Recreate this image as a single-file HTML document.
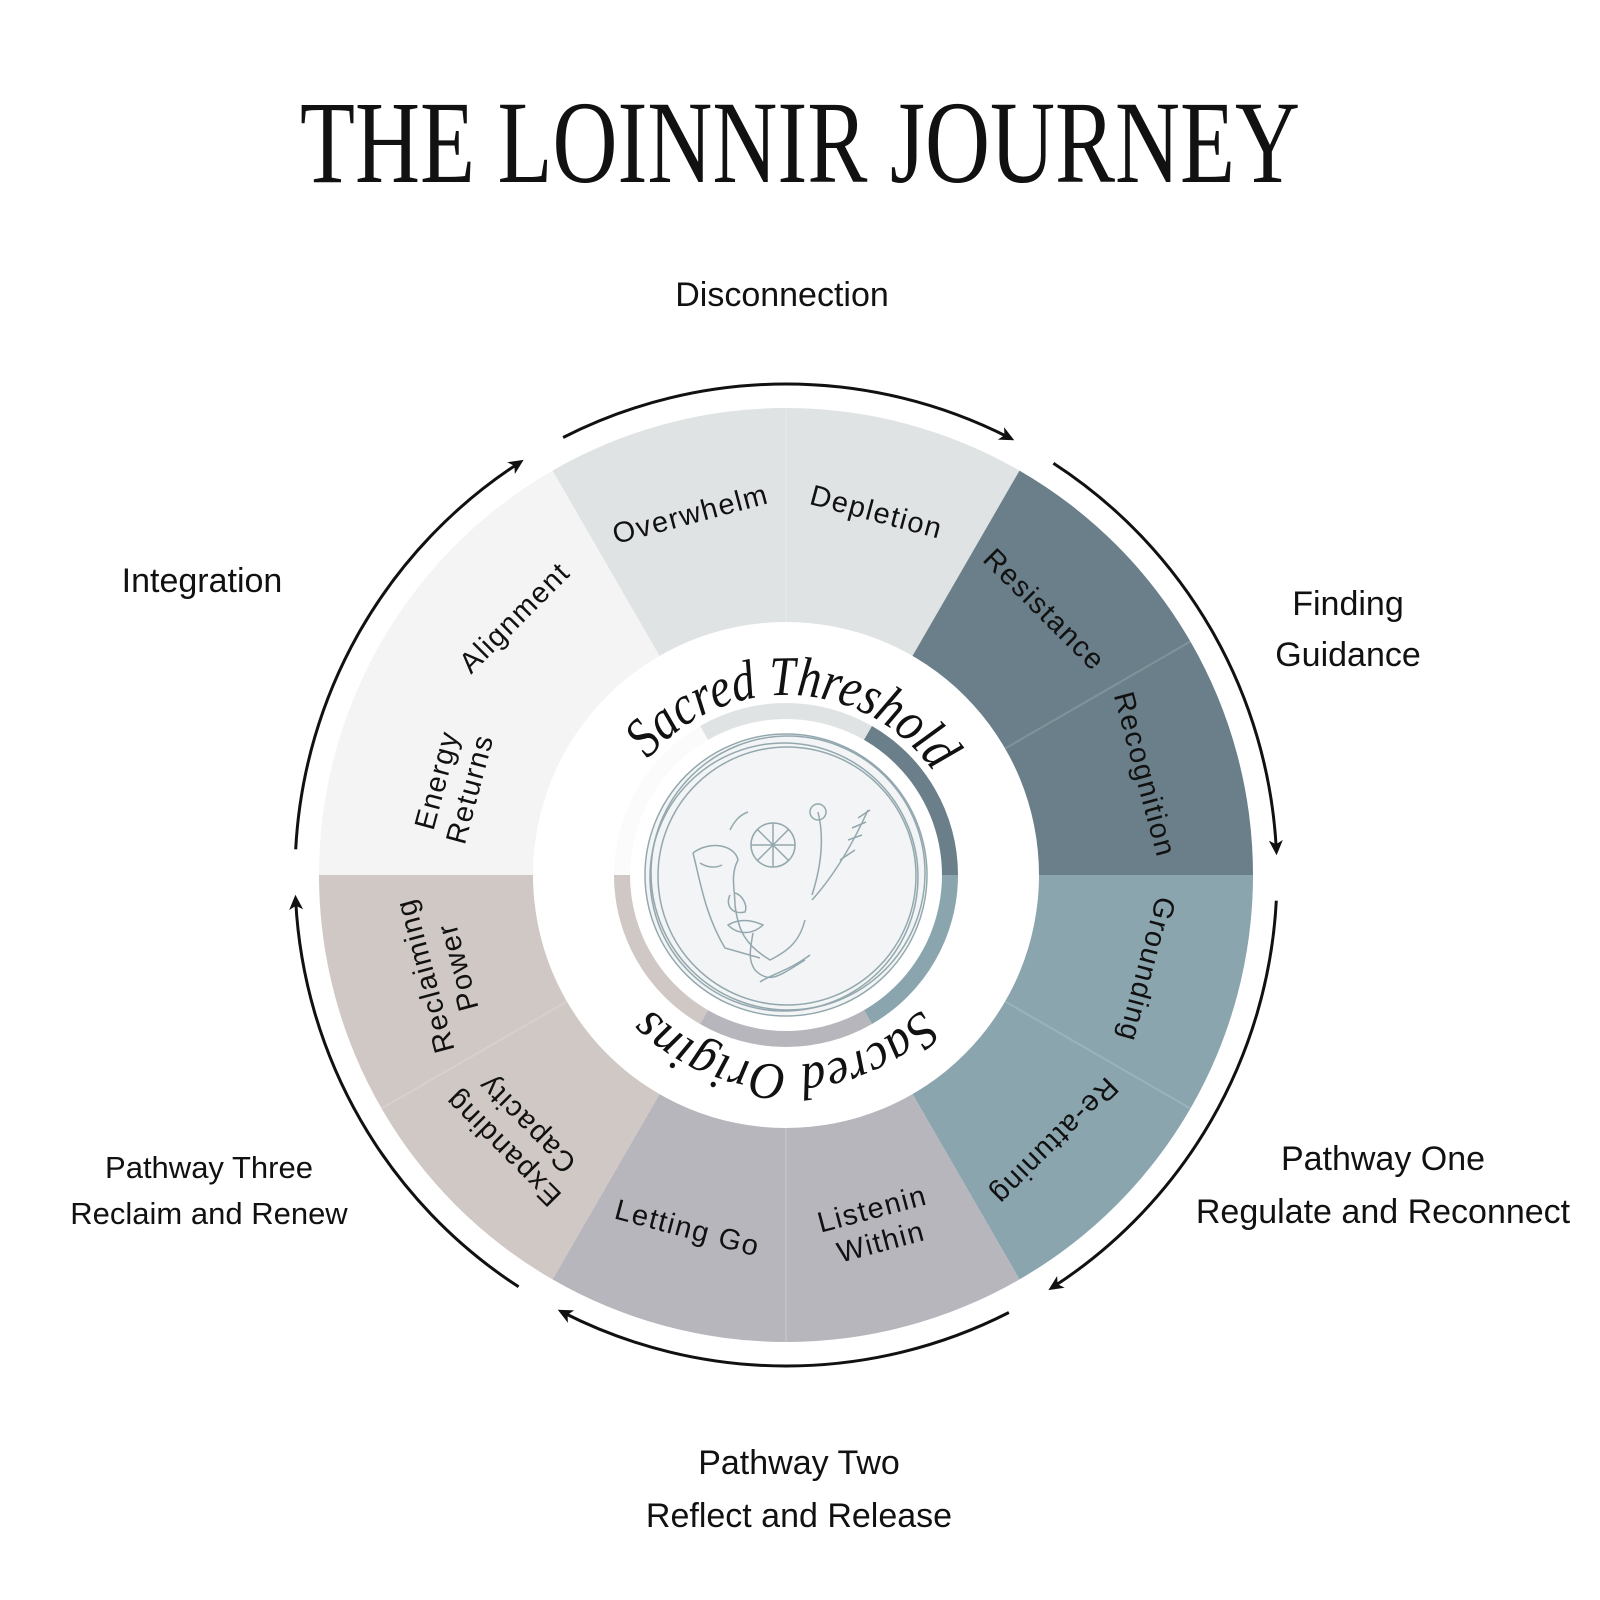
<!DOCTYPE html>
<html><head><meta charset="utf-8"><style>
html,body{margin:0;padding:0;background:#fff;}
svg{display:block;}
.lb{font-family:"Liberation Sans",sans-serif;font-size:34px;fill:#111;}
.sg{font-family:"Liberation Sans",sans-serif;font-size:29px;fill:#111;letter-spacing:1.5px;}
</style></head><body>
<svg width="1600" height="1600" viewBox="0 0 1600 1600" xmlns="http://www.w3.org/2000/svg">
<defs>
<marker id="ah" markerWidth="16" markerHeight="14" refX="9" refY="7" orient="auto" markerUnits="userSpaceOnUse">
<path d="M0,0 L15,7 L0,14 L4,7 Z" fill="#111"/>
</marker>
<path id="topArc" d="M648.1,759.3 A180,180 0 0 1 933.4,771.8"/>
<path id="botArc" d="M920.4,1009.4 A190,190 0 0 1 640.4,997.1"/>
</defs>

<text x="800" y="182" text-anchor="middle" font-family="Liberation Serif,serif" font-size="118" textLength="1000" lengthAdjust="spacingAndGlyphs" fill="#111">THE LOINNIR JOURNEY</text>

<path d="M786,875 L552.5,470.6 A467,467 0 0 1 1019.5,470.6 Z" fill="#dfe3e4"/>
<path d="M786,875 L1019.5,470.6 A467,467 0 0 1 1253,875 Z" fill="#6a7f89"/>
<path d="M786,875 L1253,875 A467,467 0 0 1 1019.5,1279.4 Z" fill="#8aa5ae"/>
<path d="M786,875 L1019.5,1279.4 A467,467 0 0 1 552.5,1279.4 Z" fill="#b8b6bd"/>
<path d="M786,875 L552.5,1279.4 A467,467 0 0 1 319,875 Z" fill="#d0c8c5"/>
<path d="M786,875 L319,875 A467,467 0 0 1 552.5,470.6 Z" fill="#f4f4f4"/>
<g stroke="#ffffff" stroke-opacity="0.15" stroke-width="2">
<line x1="786" y1="875" x2="786" y2="408"/><line x1="786" y1="875" x2="1190.4" y2="641.5"/>
<line x1="786" y1="875" x2="1190.4" y2="1108.5"/><line x1="786" y1="875" x2="786" y2="1342"/>
<line x1="786" y1="875" x2="381.6" y2="1108.5"/><line x1="786" y1="875" x2="381.6" y2="641.5"/>
</g>
<circle cx="786" cy="875" r="253" fill="#fff"/>

<path d="M786,875 L700,726 A172,172 0 0 1 872,726 Z" fill="#dfe3e4"/>
<path d="M786,875 L872,726 A172,172 0 0 1 958,875 Z" fill="#6a7f89"/>
<path d="M786,875 L958,875 A172,172 0 0 1 872,1024 Z" fill="#8aa5ae"/>
<path d="M786,875 L872,1024 A172,172 0 0 1 700,1024 Z" fill="#b8b6bd"/>
<path d="M786,875 L700,1024 A172,172 0 0 1 614,875 Z" fill="#d0c8c5"/>
<path d="M786,875 L614,875 A172,172 0 0 1 700,726 Z" fill="#fbfbfb"/>
<circle cx="786" cy="875" r="156" fill="#fff"/>
<circle cx="786" cy="875" r="140" fill="#f2f4f5"/>
<g fill="none" stroke="#93a8ae" stroke-width="1.5">
<circle cx="786" cy="875" r="141"/><circle cx="788" cy="873" r="137"/><circle cx="784" cy="877" r="134"/><circle cx="787" cy="876" r="129"/>
<path d="M693,853 C710,840 735,845 738,860 C730,875 735,890 735,905 C738,930 745,945 770,960 C790,950 800,940 805,920"/>
<path d="M693,853 C700,880 705,915 725,948 L760,958"/>
<path d="M700,863 C708,868 716,868 722,865"/>
<path d="M730,895 C725,905 732,915 745,912 C748,905 742,895 735,893"/>
<path d="M728,925 C740,918 752,920 763,925 C752,935 738,935 728,925 Z"/>
<path d="M753,933 C750,950 748,960 755,970 C770,985 780,975 805,960"/>
<path d="M760,982 C770,975 790,970 810,955"/>
<circle cx="773" cy="845" r="22"/><path d="M773,823 L773,867 M751,845 L795,845 M757,829 L789,861 M789,829 L757,861"/>
<path d="M812,895 C820,870 825,840 818,812"/><circle cx="818" cy="812" r="8"/>
<path d="M812,900 C830,880 850,850 868,810"/>
<path d="M840,860 L855,850 M848,840 L862,835 M852,828 L866,822 M858,818 L870,810"/>
<path d="M730,830 C735,820 740,815 748,812"/>
</g>

<text font-family="Liberation Serif,serif" font-style="italic" font-size="56" fill="#111"><textPath href="#topArc" textLength="330" lengthAdjust="spacingAndGlyphs">Sacred Threshold</textPath></text>
<text font-family="Liberation Serif,serif" font-style="italic" font-size="52" fill="#111"><textPath href="#botArc" textLength="300" lengthAdjust="spacingAndGlyphs">Sacred Origins</textPath></text>

<g fill="none" stroke="#111" stroke-width="3" marker-end="url(#ah)">
<path d="M563.1,437.5 A491,491 0 0 1 1008.9,437.5"/>
<path d="M1053.4,463.2 A491,491 0 0 1 1276.3,849.3"/>
<path d="M1276.3,900.7 A491,491 0 0 1 1053.4,1286.8"/>
<path d="M1008.9,1312.5 A491,491 0 0 1 563.1,1312.5"/>
<path d="M518.6,1286.8 A491,491 0 0 1 295.7,900.7"/>
<path d="M295.7,849.3 A491,491 0 0 1 518.6,463.2"/>
</g>

<g class="sg" text-anchor="middle" dominant-baseline="middle">
<text transform="translate(691,516) rotate(-15)">Overwhelm</text>
<text transform="translate(876,514) rotate(15)">Depletion</text>
<text transform="translate(1043,611) rotate(45)">Resistance</text>
<text transform="translate(1143,775) rotate(75)">Recognition</text>
<text transform="translate(1145,969) rotate(105)">Grounding</text>
<text transform="translate(1053,1140) rotate(135)">Re-attuning</text>
<text transform="translate(877,1227) rotate(-15)"><tspan x="0" dy="-17">Listenin</tspan><tspan x="0" dy="34">Within</tspan></text>
<text transform="translate(687,1230) rotate(15)">Letting Go</text>
<text transform="translate(516,1135) rotate(225)"><tspan x="0" dy="-17">Expanding</tspan><tspan x="0" dy="34">Capacity</tspan></text>
<text transform="translate(443,971) rotate(-105)"><tspan x="0" dy="-17">Reclaiming</tspan><tspan x="0" dy="34">Power</tspan></text>
<text transform="translate(455,785) rotate(-75)"><tspan x="0" dy="-17">Energy</tspan><tspan x="0" dy="34">Returns</tspan></text>
<text transform="translate(516,619) rotate(-45)">Alignment</text>
</g>

<g class="lb" text-anchor="middle">
<text x="782" y="306">Disconnection</text>
<text x="202" y="592">Integration</text>
<text x="1348" y="615">Finding</text>
<text x="1348" y="666">Guidance</text>
<text x="1383" y="1170">Pathway One</text>
<text x="1383" y="1223">Regulate and Reconnect</text>
<text x="799" y="1474">Pathway Two</text>
<text x="799" y="1527">Reflect and Release</text>
<text x="209" y="1178" font-size="31">Pathway Three</text>
<text x="209" y="1224" font-size="31">Reclaim and Renew</text>
</g>
</svg>
</body></html>
